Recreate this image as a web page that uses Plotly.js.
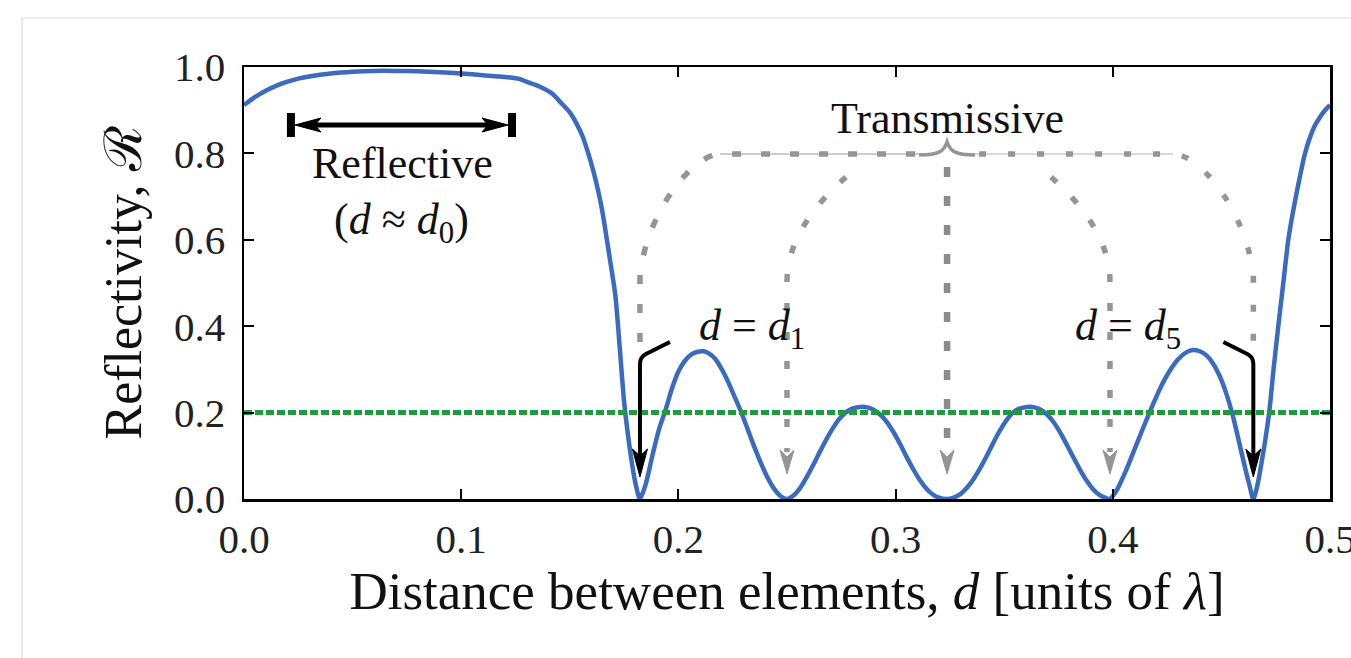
<!DOCTYPE html>
<html>
<head>
<meta charset="utf-8">
<script src="https://cdn.plot.ly/plotly-3.0.1.min.js"></script>
<style>
  html, body { margin: 0; padding: 0; background: #ffffff; }
  #chart { width: 1351px; height: 658px; }
</style>
</head>
<body>
<div id="chart"></div>
<script>
// ---- data ----
const distance = [
  0.000, 0.005, 0.010, 0.015, 0.020, 0.025, 0.030, 0.040, 0.050, 0.060,
  0.070, 0.080, 0.090, 0.100, 0.110, 0.120, 0.127, 0.130, 0.136, 0.142,
  0.146, 0.150, 0.153, 0.156, 0.1585, 0.1607, 0.163, 0.165, 0.168, 0.171,
  0.173, 0.175, 0.177, 0.179, 0.1805, 0.1815, 0.1823,
  0.185, 0.188, 0.191, 0.194, 0.197, 0.200, 0.203, 0.206, 0.209, 0.2115,
  0.214, 0.217, 0.220, 0.223, 0.226, 0.229, 0.232, 0.235, 0.238, 0.241,
  0.244, 0.247, 0.250,
  0.253, 0.256, 0.259, 0.262, 0.265, 0.268, 0.271, 0.274, 0.277, 0.280,
  0.2835, 0.287, 0.290, 0.293, 0.296, 0.299, 0.302, 0.305, 0.308, 0.311,
  0.314, 0.317, 0.320, 0.3237,
  0.327, 0.330, 0.333, 0.336, 0.339, 0.342, 0.345, 0.348, 0.351, 0.354,
  0.357, 0.3605, 0.364, 0.367, 0.370, 0.373, 0.376, 0.379, 0.382, 0.385,
  0.388, 0.391, 0.394, 0.3965, 0.3987,
  0.402, 0.406, 0.410, 0.414, 0.418, 0.422, 0.426, 0.430, 0.434, 0.437,
  0.440, 0.443, 0.446, 0.449, 0.452, 0.455, 0.458, 0.461, 0.463, 0.4647,
  0.4665, 0.468, 0.470, 0.472, 0.474, 0.4762, 0.4785, 0.4808, 0.4826, 0.4845,
  0.4865, 0.4885, 0.491, 0.4931, 0.4955, 0.4977, 0.500
];
const reflectivity = [
  0.912, 0.930, 0.945, 0.957, 0.966, 0.973, 0.978, 0.985, 0.989, 0.991,
  0.991, 0.990, 0.988, 0.985, 0.981, 0.977, 0.972, 0.966, 0.955, 0.938,
  0.917, 0.895, 0.870, 0.838, 0.800, 0.762, 0.715, 0.665, 0.570, 0.470,
  0.350, 0.225, 0.140, 0.070, 0.030, 0.010, 0.000,
  0.035, 0.100, 0.160, 0.205, 0.255, 0.295, 0.320, 0.335, 0.341, 0.342,
  0.337, 0.324, 0.300, 0.270, 0.235, 0.200, 0.160, 0.120, 0.083, 0.050,
  0.024, 0.007, 0.000,
  0.008, 0.025, 0.050, 0.078, 0.108, 0.137, 0.163, 0.185, 0.200, 0.209,
  0.213, 0.212, 0.206, 0.195, 0.178, 0.155, 0.128, 0.098, 0.070, 0.045,
  0.025, 0.011, 0.003, 0.000,
  0.004, 0.012, 0.027, 0.047, 0.072, 0.100, 0.130, 0.158, 0.182, 0.200,
  0.209, 0.213, 0.212, 0.206, 0.194, 0.176, 0.152, 0.124, 0.095, 0.067,
  0.042, 0.022, 0.009, 0.003, 0.000,
  0.022, 0.065, 0.115, 0.165, 0.213, 0.258, 0.295, 0.323, 0.340, 0.345,
  0.342, 0.333, 0.315, 0.287, 0.248, 0.198, 0.135, 0.070, 0.030, 0.000,
  0.030, 0.070, 0.130, 0.200, 0.300, 0.400, 0.500, 0.600, 0.655, 0.705,
  0.755, 0.800, 0.840, 0.865, 0.885, 0.900, 0.912
];
const thresholdX = [0, 0.5];
const thresholdY = [0.2, 0.2];
const xTickVals = [0, 0.1, 0.2, 0.3, 0.4, 0.5];
const xTickText = ['0.0', '0.1', '0.2', '0.3', '0.4', '0.5'];
const yTickVals = [0, 0.2, 0.4, 0.6, 0.8, 1.0];
const yTickText = ['0.0', '0.2', '0.4', '0.6', '0.8', '1.0'];
const transmissionZeros = [0.1823, 0.25, 0.3237, 0.3987, 0.4647]; // d1 ... d5
const reflectiveBand = [0.0216, 0.1234];

// ---- layout geometry ----
const W = 1351, H = 658;
const M = { l: 244, r: 21, t: 67, b: 159 };
const plotW = W - M.l - M.r, plotH = H - M.t - M.b;
const xRange = [0, 0.5], yRange = [0, 1.0];
// page pixel -> data helpers (for annotation drawings only)
const gx = p => xRange[0] + (p - M.l) * (xRange[1] - xRange[0]) / plotW;
const gy = p => yRange[0] + (M.t + plotH - p) * (yRange[1] - yRange[0]) / plotH;
const px = v => M.l + (v - xRange[0]) / (xRange[1] - xRange[0]) * plotW;
const pt = (x, y) => gx(x).toFixed(5) + ',' + gy(y).toFixed(5);

const FONT = '"Liberation Serif", "DejaVu Serif", serif';
const GRAY = '#959595';

const z = transmissionZeros.map(px);
const cx = z[2];
const braceY = 154;

const shapes = [];
function path(d, color, width, dash, layer, fill) {
  const s = { type: 'path', xref: 'x', yref: 'y', path: d, layer: layer || 'above',
              line: { color: color, width: width, dash: dash || 'solid' } };
  s.fillcolor = fill ? fill : 'rgba(0,0,0,0)';
  shapes.push(s);
}
function arrowHead(x, tipY, halfW, len, notch) {
  return 'M ' + pt(x, tipY) + ' L ' + pt(x - halfW, tipY - len) + ' L ' + pt(x, tipY - len + notch) +
         ' L ' + pt(x + halfW, tipY - len) + ' Z';
}

// light frame around the figure
shapes.push({ type: 'rect', xref: 'paper', yref: 'paper',
  x0: (22 - M.l) / plotW, x1: 1.2, y0: -0.6, y1: (M.t + plotH - 18) / plotH,
  line: { color: '#dcdcdc', width: 1.2 }, layer: 'below' });

// Transmissive brace: thin solid underlay for horizontal parts
path('M ' + pt(z[0] + 80, braceY) + ' L ' + pt(cx - 24, braceY), '#bdbdbd', 1.4, 'solid', 'below');
path('M ' + pt(cx + 24, braceY) + ' L ' + pt(z[4] - 80, braceY), '#cccccc', 1.4, 'solid', 'below');
// curly tip
path('M ' + pt(cx - 28, braceY + 1) + ' C ' + pt(cx - 8, braceY + 1) + ' ' + pt(cx - 3, braceY - 3) + ' ' + pt(cx, braceY - 12) +
     ' C ' + pt(cx + 3, braceY - 3) + ' ' + pt(cx + 8, braceY + 1) + ' ' + pt(cx + 28, braceY + 1), GRAY, 3.5, 'solid', 'below');
// outer left path (brace to d1)
path('M ' + pt(cx - 32, braceY) + ' L ' + pt(z[0] + 80, braceY) + ' C ' + pt(z[0] + 55, braceY) + ' ' +
     pt(z[0] + 8, 208) + ' ' + pt(z[0], 275) + ' L ' + pt(z[0], 345), GRAY, 5.5, '9px,20px', 'below');
// outer right path (brace to d5)
path('M ' + pt(cx + 32, braceY) + ' L ' + pt(z[4] - 80, braceY) + ' C ' + pt(z[4] - 55, braceY) + ' ' +
     pt(z[4] - 8, 208) + ' ' + pt(z[4], 275) + ' L ' + pt(z[4], 345), GRAY, 5.5, '7px,22px', 'below');
// inner paths
path('M ' + pt(z[1] + 59, 177) + ' C ' + pt(z[1] + 40, 194) + ' ' + pt(z[1], 232) + ' ' + pt(z[1], 282) +
     ' L ' + pt(z[1], 452), GRAY, 5.5, '8px,21px', 'below');
path('M ' + pt(z[3] - 59, 177) + ' C ' + pt(z[3] - 40, 194) + ' ' + pt(z[3], 232) + ' ' + pt(z[3], 282) +
     ' L ' + pt(z[3], 452), GRAY, 5.5, '8px,21px', 'below');
path('M ' + pt(cx, 167) + ' L ' + pt(cx, 452), '#8c8c8c', 6.5, '10px,19px', 'below');
// gray arrowheads
[z[1], cx, z[3]].forEach(x => path(arrowHead(x, 474, 7, 24, 7), GRAY, 1, 'solid', 'below', GRAY));

// black arrows for d1 and d5
path('M ' + pt(z[0] + 30, 342) + ' L ' + pt(z[0] + 6, 354) + ' Q ' + pt(z[0], 357) + ' ' + pt(z[0], 364) +
     ' L ' + pt(z[0], 456), '#000000', 4);
path('M ' + pt(z[4] - 30, 342) + ' L ' + pt(z[4] - 6, 354) + ' Q ' + pt(z[4], 357) + ' ' + pt(z[4], 364) +
     ' L ' + pt(z[4], 456), '#000000', 4);
path(arrowHead(z[0], 477, 7.5, 28, 7), '#000000', 1, 'solid', 'above', '#000000');
path(arrowHead(z[4], 477, 7.5, 28, 7), '#000000', 1, 'solid', 'above', '#000000');

// Reflective double arrow with end bars
const bL = px(reflectiveBand[0]), bR = px(reflectiveBand[1]), bY = 125;
path('M ' + pt(bL + 12, bY) + ' L ' + pt(bR - 12, bY), '#000000', 5);
path('M ' + pt(bL, bY - 12) + ' L ' + pt(bL, bY + 12), '#000000', 8);
path('M ' + pt(bR, bY - 12) + ' L ' + pt(bR, bY + 12), '#000000', 8);
path('M ' + pt(bL + 4, bY) + ' L ' + pt(bL + 30, bY - 7) + ' L ' + pt(bL + 24, bY) + ' L ' + pt(bL + 30, bY + 7) + ' Z',
     '#000000', 1, 'solid', 'above', '#000000');
path('M ' + pt(bR - 4, bY) + ' L ' + pt(bR - 30, bY - 7) + ' L ' + pt(bR - 24, bY) + ' L ' + pt(bR - 30, bY + 7) + ' Z',
     '#000000', 1, 'solid', 'above', '#000000');

const annFont = { family: FONT, size: 44, color: '#111111' };
const annotations = [
  { x: gx(402), y: gy(163), text: 'Reflective' },
  { x: gx(401), y: gy(222), text: '(<i>d</i> ≈ <i>d</i><sub>0</sub>)' },
  { x: transmissionZeros[2], y: gy(118), text: 'Transmissive' },
  { x: gx(752), y: gy(328), text: '<i>d</i> = <i>d</i><sub>1</sub>' },
  { x: gx(1128), y: gy(328), text: '<i>d</i> = <i>d</i><sub>5</sub>' }
].map(a => Object.assign({ xref: 'x', yref: 'y', showarrow: false, xanchor: 'center', yanchor: 'middle',
                           font: annFont }, a));

const traces = [
  { x: distance, y: reflectivity, type: 'scatter', mode: 'lines',
    line: { color: '#3a6bbf', width: 4.5, shape: 'spline', smoothing: 0.7 }, hoverinfo: 'skip' },
  { x: thresholdX, y: thresholdY, type: 'scatter', mode: 'lines',
    line: { color: '#1f9a3c', width: 5, dash: '8px,3px' }, hoverinfo: 'skip' }
];

const axisCommon = {
  showline: true, linewidth: 2.5, linecolor: '#000000', mirror: 'ticks',
  ticks: 'inside', ticklen: 10, tickwidth: 2, tickcolor: '#000000',
  showgrid: false, zeroline: false, fixedrange: true, ticklabeloverflow: 'allow',
  tickfont: { family: FONT, size: 41, color: '#222222' }
};

const layout = {
  width: W, height: H,
  margin: M,
  paper_bgcolor: '#ffffff', plot_bgcolor: '#ffffff',
  showlegend: false,
  xaxis: Object.assign({}, axisCommon, {
    range: xRange, tickmode: 'array', tickvals: xTickVals, ticktext: xTickText,
    ticklabelstandoff: 2,
    title: { text: 'Distance between elements, <i>d</i> [units of <i>λ</i>]',
             font: { family: FONT, size: 53, color: '#111111' }, standoff: 2 }
  }),
  yaxis: Object.assign({}, axisCommon, {
    range: yRange, tickmode: 'array', tickvals: yTickVals, ticktext: yTickText,
    ticklabelstandoff: 8,
    title: { text: 'Reflectivity, ℛ',
             font: { family: FONT, size: 52, color: '#111111' }, standoff: 16 }
  }),
  shapes: shapes,
  annotations: annotations
};

Plotly.newPlot('chart', traces, layout, { staticPlot: true, displayModeBar: false });
</script>
</body>
</html>
